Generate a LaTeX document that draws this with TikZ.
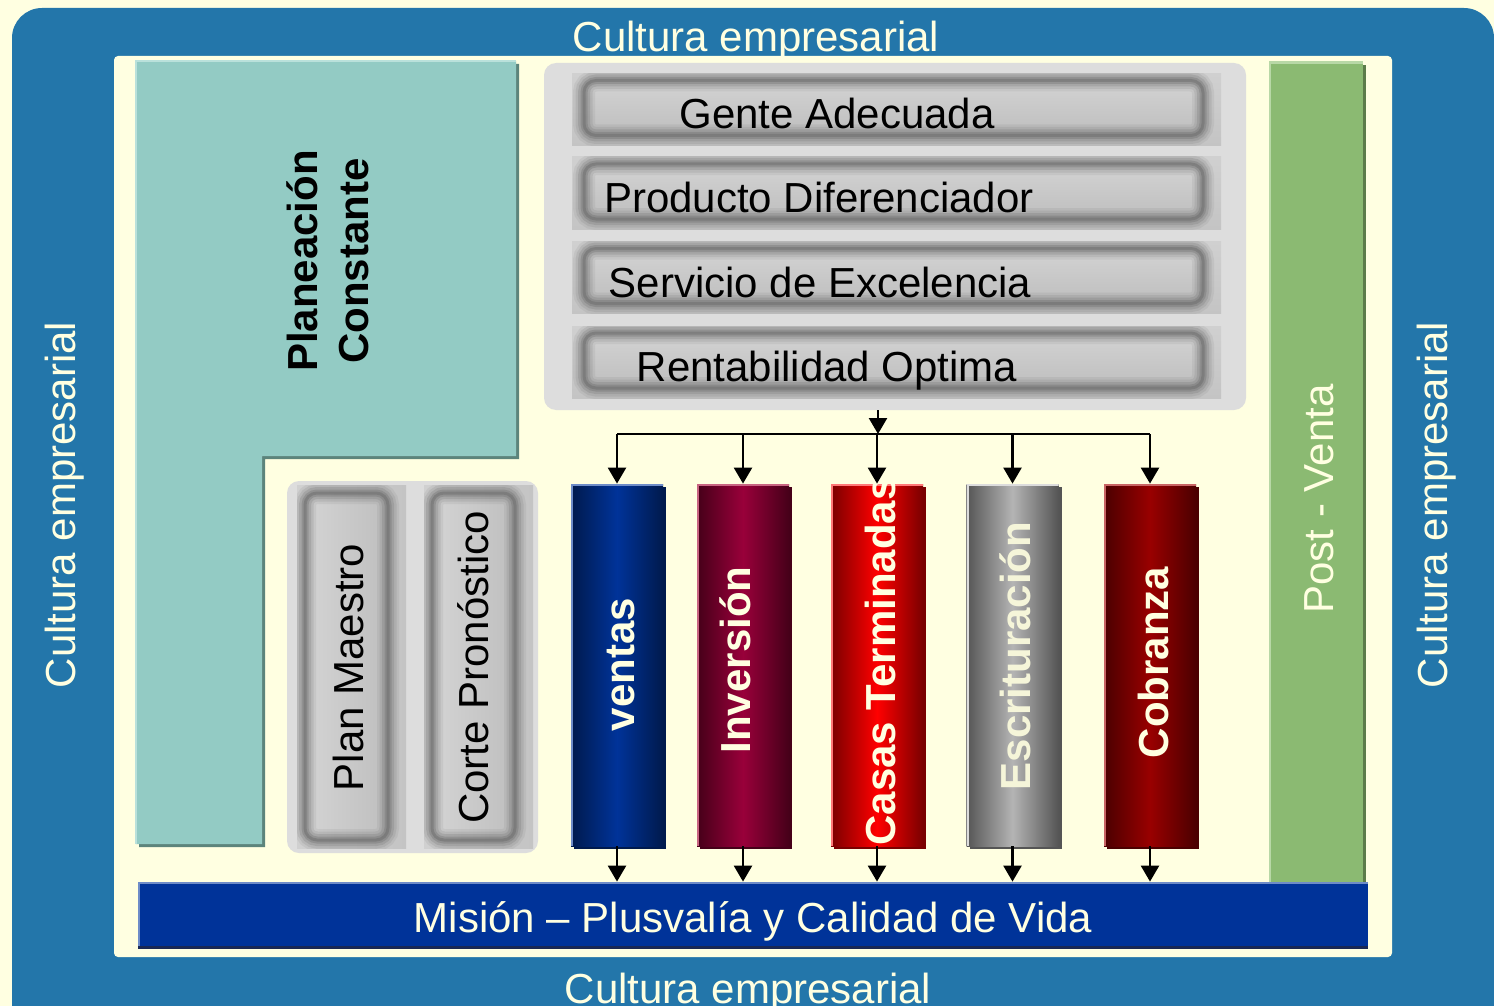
\documentclass[tikz,border=0pt]{standalone}
\usepackage{fontspec}
\setmainfont{Liberation Sans}
\usetikzlibrary{arrows.meta,shadows,calc}

\definecolor{frameblue}{RGB}{35,118,170}
\definecolor{cream}{RGB}{255,255,225}
\definecolor{tealfill}{RGB}{147,203,196}
\definecolor{tealdark}{RGB}{92,132,123}
\definecolor{teallight}{RGB}{186,225,219}
\definecolor{panelgray}{RGB}{221,221,221}
\definecolor{greenfill}{RGB}{139,186,114}
\definecolor{greendark}{RGB}{92,124,74}
\definecolor{greenlight}{RGB}{184,216,166}
\definecolor{misionblue}{RGB}{0,51,153}
\definecolor{misionlight}{RGB}{110,140,200}
\definecolor{misiondark}{RGB}{25,40,85}
\definecolor{metalout}{RGB}{208,208,208}
\definecolor{metaloutb}{RGB}{196,196,196}
\definecolor{metalin}{RGB}{214,214,214}
\definecolor{metalinb}{RGB}{186,186,186}
\definecolor{ringdark}{RGB}{105,105,105}
% column colours: edge / middle / highlight
\definecolor{vedge}{RGB}{0,26,77}     \definecolor{vmid}{RGB}{0,51,153}    \definecolor{vhl}{RGB}{110,140,200}
\definecolor{iedge}{RGB}{70,0,25}     \definecolor{imid}{RGB}{153,0,58}    \definecolor{ihl}{RGB}{200,100,130}
\definecolor{cedge}{RGB}{122,0,0}     \definecolor{cmid}{RGB}{255,0,0}     \definecolor{chl}{RGB}{255,120,120}
\definecolor{eedge}{RGB}{85,85,85}    \definecolor{emid}{RGB}{180,180,180} \definecolor{ehl}{RGB}{220,220,220}
\definecolor{bedge}{RGB}{75,0,0}      \definecolor{bmid}{RGB}{153,0,0}     \definecolor{bhl}{RGB}{200,100,100}

\begin{document}
\begin{tikzpicture}[x=0.5pt,y=-0.5pt,
  lbl/.style={inner sep=0pt, anchor=base, font=\fontsize{21pt}{25pt}\selectfont},
  boldlbl/.style={lbl, font=\fontsize{21pt}{25pt}\selectfont\bfseries},
  link/.style={line width=1.25pt},
  arr/.style={line width=1.25pt, -{Triangle[width=9pt,length=8pt]}},
  panel/.style={rectangle, inner sep=0pt, fill=panelgray, rounded corners=6pt},
  highlight/.style={path picture={\draw[#1, line width=2pt]
      (path picture bounding box.south west) -- (path picture bounding box.north west)
      -- (path picture bounding box.north east);}},
  column/.style n args={3}{rectangle, inner sep=0pt, minimum width=46pt, minimum height=181pt,
      left color=#1, right color=#1, middle color=#2,
      drop shadow={shadow xshift=1.5pt, shadow yshift=-1.5pt, fill=#1, opacity=1},
      highlight=#3},
  metalh/.style={rectangle, inner sep=0pt, minimum width=324.5pt, minimum height=36pt,
      top color=metalout, bottom color=metaloutb,
      path picture={
        \path[top color=metalin, bottom color=metalinb, rounded corners=6pt]
          ([shift={(6pt,-3.5pt)}]path picture bounding box.north west) rectangle
          ([shift={(-9pt,5pt)}]path picture bounding box.south east);
        \foreach \w/\o in {11pt/0.10, 8.5pt/0.15, 6pt/0.22, 3.5pt/0.32, 1.5pt/0.45}
          \draw[ringdark, line width=\w, opacity=\o, rounded corners=6pt]
            ([shift={(6pt,-3.5pt)}]path picture bounding box.north west) rectangle
            ([shift={(-9pt,5pt)}]path picture bounding box.south east);
      }},
  metalv/.style={rectangle, inner sep=0pt, minimum width=54.5pt, minimum height=181.5pt,
      left color=metalout, right color=metaloutb,
      path picture={
        \path[left color=metalin, right color=metalinb, rounded corners=6pt]
          ([shift={(4pt,-4pt)}]path picture bounding box.north west) rectangle
          ([shift={(-9pt,4pt)}]path picture bounding box.south east);
        \foreach \w/\o in {11pt/0.10, 8.5pt/0.15, 6pt/0.22, 3.5pt/0.32, 1.5pt/0.45}
          \draw[ringdark, line width=\w, opacity=\o, rounded corners=6pt]
            ([shift={(4pt,-4pt)}]path picture bounding box.north west) rectangle
            ([shift={(-9pt,4pt)}]path picture bounding box.south east);
      }},
]
\useasboundingbox (0,0) rectangle (1494,1006);
\clip (0,0) rectangle (1494,1006);
\fill[cream] (0,0) rectangle (1494,1006);

% outer frame and its four captions
\fill[frameblue, rounded corners=15pt] (12,8) rectangle (1494,1060);
\node[lbl, text=cream] (ctop) at (756,52) {Cultura empresarial};
\node[lbl, text=cream] (cbottom) at (748,1003) {Cultura empresarial};
\node[lbl, text=cream, rotate=90] (cleft) at (75,505) {Cultura empresarial};
\node[lbl, text=cream, rotate=90] (cright) at (1447,505) {Cultura empresarial};

% inner area
\fill[cream, rounded corners=2pt] (114,56) rectangle (1392,957);

% planning block (L-shaped)
\fill[tealdark] (139,64) -- (519,64) -- (519,459) -- (265,459) -- (265,847) -- (139,847) -- cycle;
\fill[tealfill] (136,61) -- (516,61) -- (516,456) -- (262,456) -- (262,844) -- (136,844) -- cycle;
\draw[teallight, line width=1pt] (136,844) -- (136,61) -- (516,61);
\node[boldlbl, rotate=90] (plan1) at (317,261) {Planeación};
\node[boldlbl, rotate=90] (plan2) at (368,261) {Constante};

% top panel with four bars
\node[panel, minimum width=351pt, minimum height=173.5pt] (toppanel) at (895,236.5) {};
\node[metalh] (bar1) at (896.5,109.5) {};
\node[metalh] (bar2) at (896.5,193) {};
\node[metalh] (bar3) at (896.5,277.5) {};
\node[metalh] (bar4) at (896.5,362) {};
\node[lbl] (t1) at (837,128) {Gente Adecuada};
\node[lbl] (t2) at (819,213) {Producto Diferenciador};
\node[lbl] (t3) at (820,297) {Servicio de Excelencia};
\node[lbl] (t4) at (827,381) {Rentabilidad Optima};

% lower-left panel with two vertical bars
\node[panel, minimum width=125.5pt, minimum height=186pt] (lowpanel) at (412.5,667) {};
\node[metalv] (vbar1) at (351.5,666.5) {};
\node[metalv] (vbar2) at (478.5,666.5) {};
\node[lbl, rotate=90] (pm) at (363,667.5) {Plan Maestro};
\node[lbl, rotate=90] (cp) at (488,667.5) {Corte Pronóstico};

% after-sales strip
\node[rectangle, inner sep=0pt, minimum width=47pt, minimum height=411pt, fill=greenfill,
      drop shadow={shadow xshift=1.5pt, shadow yshift=-1.5pt, fill=greendark, opacity=1},
      highlight=greenlight] (post) at (1316,473) {};
\node[lbl, rotate=90, text=cream] (postlbl) at (1333,499) {Post - Venta};

% process columns
\node[column={vedge}{vmid}{vhl}] (ventas) at (617,665) {};
\node[column={iedge}{imid}{ihl}] (inversion) at (743,665) {};
\node[column={cedge}{cmid}{chl}] (casas) at (877,665) {};
\node[column={eedge}{emid}{ehl}] (escritura) at (1012.5,665) {};
\node[column={bedge}{bmid}{bhl}] (cobranza) at (1150,665) {};
\node[boldlbl, rotate=90, text=cream] (lv) at (634,664.5) {ventas};
\node[boldlbl, rotate=90, text=cream] (li) at (750,660) {Inversión};
\node[boldlbl, rotate=90, text=cream] (lc) at (895,661.5) {Casas Terminadas};
\node[boldlbl, rotate=90, text=cream!92!gray] (le) at (1030,656) {Escrituración};
\node[boldlbl, rotate=90, text=cream] (lb) at (1168,662.5) {Cobranza};

% mission bar
\node[rectangle, inner sep=0pt, minimum width=615pt, minimum height=32pt, fill=misionblue,
      drop shadow={shadow xshift=0pt, shadow yshift=-1.5pt, fill=misiondark, opacity=1},
      highlight=misionlight, text=cream, font=\fontsize{21pt}{25pt}\selectfont,
      text height=18pt, text depth=0pt] (mision) at (753,914)
      {Misión – Plusvalía y Calidad de Vida};

% connectors
\coordinate (hub) at (878,434);
\draw[arr] (toppanel.south -| hub) -- (hub);
\draw[link] (ventas.north |- hub) -- (cobranza.north |- hub);
\foreach \c in {ventas,inversion,casas,escritura,cobranza}{
  \draw[arr] (\c.north |- hub) -- (\c.north);
  \draw[arr] (\c.south) -- (\c.south |- mision.north);
}
\end{tikzpicture}
\end{document}
